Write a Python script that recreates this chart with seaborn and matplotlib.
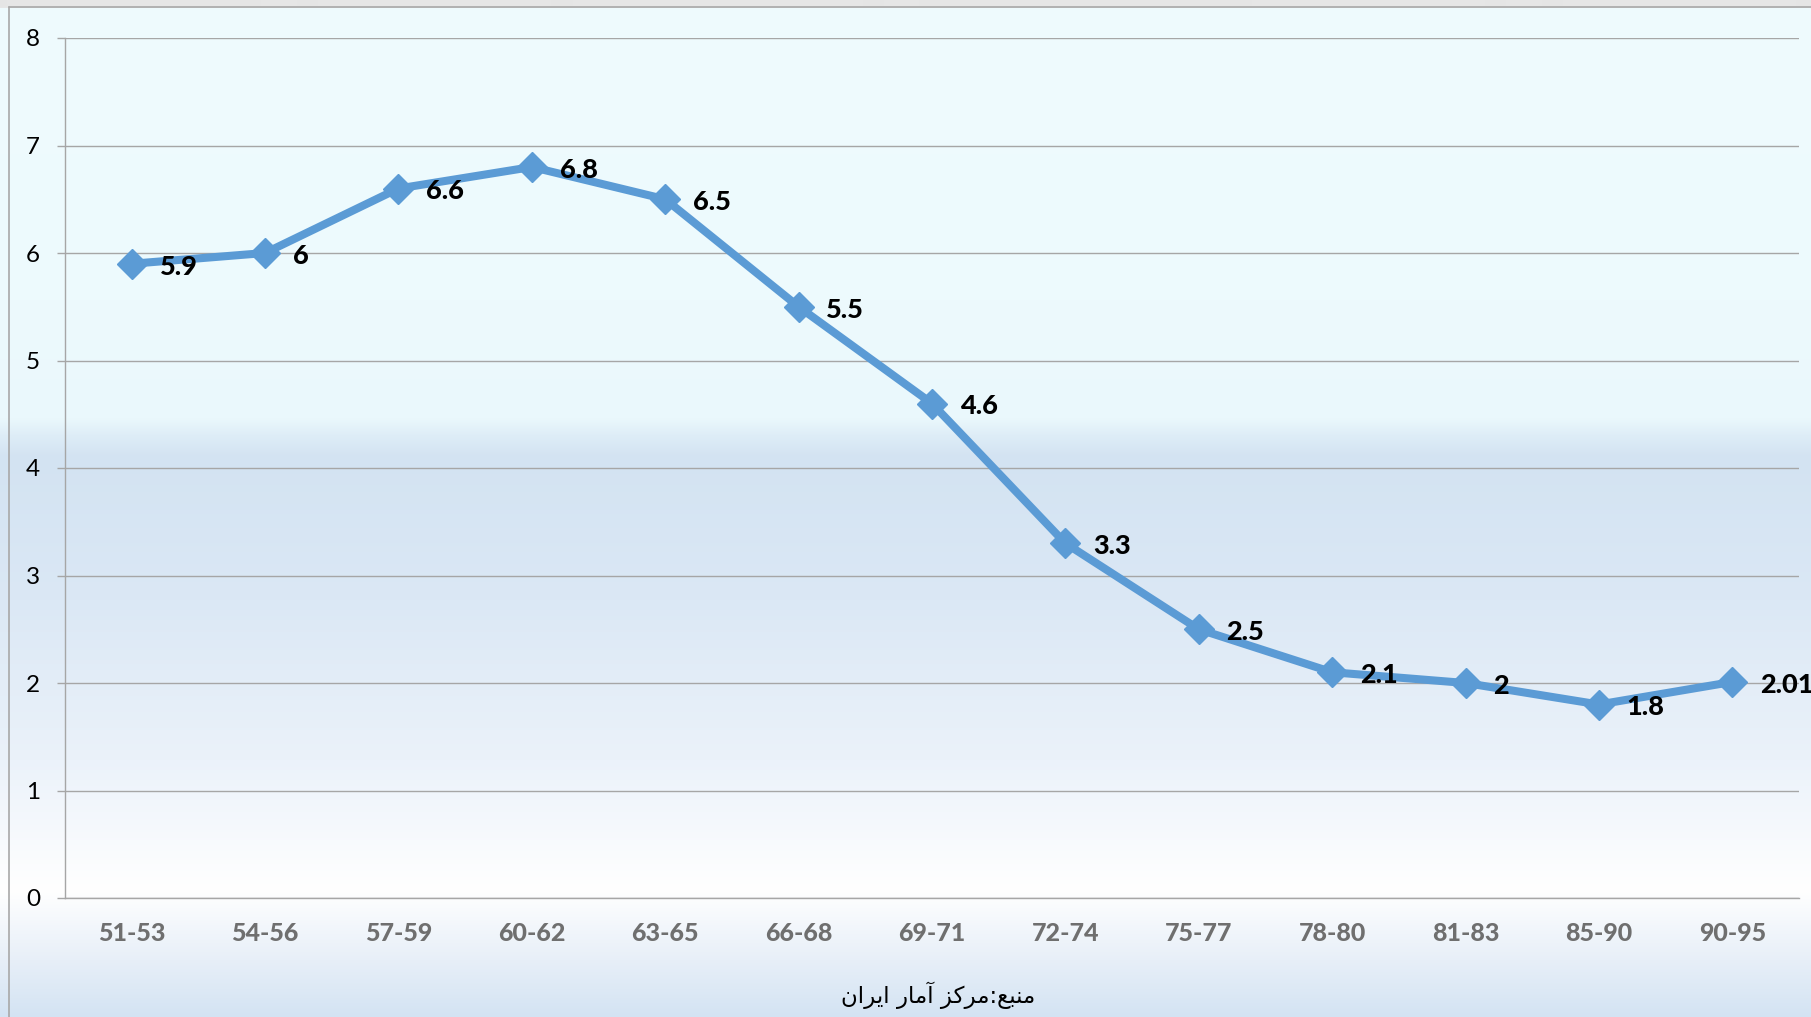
import numpy as np
import pandas as pd
import matplotlib
matplotlib.use("Agg")
import matplotlib.pyplot as plt
from matplotlib.lines import Line2D
from matplotlib import font_manager, ft2font
import seaborn as sns

# Total fertility rate by period (Iranian calendar years)
periods = ["51-53", "54-56", "57-59", "60-62", "63-65", "66-68", "69-71",
           "72-74", "75-77", "78-80", "81-83", "85-90", "90-95"]
fertility = [5.9, 6.0, 6.6, 6.8, 6.5, 5.5, 4.6, 3.3, 2.5, 2.1, 2.0, 1.8, 2.01]
value_labels = ["5.9", "6", "6.6", "6.8", "6.5", "5.5", "4.6", "3.3",
                "2.5", "2.1", "2", "1.8", "2.01"]
y_ticks = [0, 1, 2, 3, 4, 5, 6, 7, 8]
source_note = "منبع:مرکز آمار ایران"

W, H = 1811, 1017
DPI = 100

sns.set_theme(style="white")
plt.rcParams["font.family"] = ["Lato", "DejaVu Sans"]


# --- minimal Arabic-script shaping (matplotlib draws glyphs without joining) ---
_arabic_font = font_manager.findfont("DejaVu Sans")
_charmap = ft2font.FT2Font(_arabic_font).get_charmap()


def _pick(preferred, fallback):
    return preferred if all(ord(c) in _charmap for c in preferred) else fallback


# (isolated, final, initial, medial); two-form entries join to the right only
FORMS = {
    "م": ("\uFEE1", "\uFEE2", "\uFEE3", "\uFEE4"),
    "ن": ("\uFEE5", "\uFEE6", "\uFEE7", "\uFEE8"),
    "ب": ("\uFE8F", "\uFE90", "\uFE91", "\uFE92"),
    "ع": ("\uFEC9", "\uFECA", "\uFECB", "\uFECC"),
    "ک": tuple(_pick(a, b) for a, b in zip(("\uFB8E", "\uFB8F", "\uFB90", "\uFB91"),
                                          ("\uFED9", "\uFEDA", "\uFEDB", "\uFEDC"))),
    "ی": tuple(_pick(a, b) for a, b in zip(("\uFBFC", "\uFBFD", "\uFBFE", "\uFBFF"),
                                          ("\uFEEF", "\uFEF0", "\uFEF3", "\uFEF4"))),
    "ر": ("\uFEAD", "\uFEAE"),
    "ز": ("\uFEAF", "\uFEB0"),
    "ا": ("\uFE8D", "\uFE8E"),
    "آ": ("\uFE81", "\uFE82"),
}


def shape_rtl(text):
    out = []
    for i, ch in enumerate(text):
        if ch not in FORMS:
            out.append(ch)
            continue
        prev = text[i - 1] if i > 0 else None
        nxt = text[i + 1] if i + 1 < len(text) else None
        joins_prev = prev in FORMS and len(FORMS[prev]) == 4
        joins_next = nxt in FORMS and len(FORMS[ch]) == 4
        f = FORMS[ch]
        if joins_prev and joins_next:
            out.append(f[3])
        elif joins_prev:
            out.append(f[1])
        elif joins_next:
            out.append(f[2])
        else:
            out.append(f[0])
    return "".join(out)[::-1]


fig = plt.figure(figsize=(W / DPI, H / DPI), dpi=DPI)

# --- background gradient of the chart area ---
stops_px = [0, 7, 8, 300, 418, 435, 456, 600, 760, 890, 960, 1017]
stops_col = ["#e6e6e6", "#e6e6e6", "#effbfd", "#edfafd", "#eaf8fc", "#deedf7",
             "#d3e3f2", "#dbe8f5", "#ebf2fa", "#ffffff", "#e7eff8", "#d3e3f3"]
rgb = np.array([matplotlib.colors.to_rgb(c) for c in stops_col])
rows = np.arange(H)
grad = np.stack([np.interp(rows, stops_px, rgb[:, k]) for k in range(3)], axis=-1)
bg = fig.add_axes([0, 0, 1, 1], zorder=-10)
bg.imshow(grad[:, None, :], aspect="auto", extent=[0, 1, 0, 1], interpolation="bilinear")
bg.set_axis_off()

# chart area border (top and left edges)
fig.add_artist(Line2D([9 / W, 1], [1 - 7 / H, 1 - 7 / H], color="#a8a8a8", lw=1.2))
fig.add_artist(Line2D([9 / W, 9 / W], [0, 1 - 7 / H], color="#a8a8a8", lw=1.2))

# --- plot area ---
left, right, top, bottom = 65, 1799, 38, 898
ax = fig.add_axes([left / W, 1 - bottom / H, (right - left) / W, (bottom - top) / H])
ax.set_facecolor("none")

df = pd.DataFrame({"period": periods, "tfr": fertility})
sns.lineplot(data=df, x="period", y="tfr", ax=ax, sort=False,
             color="#5b9bd5", lw=5.8, marker="D", markersize=15.5,
             markeredgewidth=1.0, markeredgecolor="#5b9bd5",
             solid_joinstyle="round", solid_capstyle="round", zorder=3)

for i, (v, lab) in enumerate(zip(fertility, value_labels)):
    ax.annotate(lab, (i, v), xytext=(20, -2), textcoords="offset points",
                ha="left", va="center", fontsize=19.5, fontweight=900,
                color="black", annotation_clip=False, zorder=4)

ax.set_xlim(-0.5, len(periods) - 0.5)
ax.set_ylim(0, 8)
ax.set_yticks(y_ticks)
ax.set_yticklabels([str(t) for t in y_ticks])
ax.set_xticks(range(len(periods)))
ax.set_xticklabels(periods)
ax.set_xlabel("")
ax.set_ylabel("")

ax.set_axisbelow(True)
ax.yaxis.grid(True, color="#a6a6a6", lw=1.0)
ax.xaxis.grid(False)
for side in ("top", "right"):
    ax.spines[side].set_visible(False)
for side in ("left", "bottom"):
    ax.spines[side].set_visible(True)
    ax.spines[side].set_color("#a6a6a6")
    ax.spines[side].set_linewidth(1.0)

ax.tick_params(axis="y", which="major", length=6, width=1.0, color="#a6a6a6",
               direction="out", pad=12, labelsize=17.5, labelcolor="black", left=True)
ax.tick_params(axis="x", which="major", length=0, pad=17, labelsize=18,
               labelcolor="#6f6f6f")
for t in ax.get_xticklabels():
    t.set_fontweight(900)

# source note under the axis
fig.text(938 / W, 1 - 995 / H, shape_rtl(source_note), ha="center", va="center",
         fontsize=16.5, color="black", family="DejaVu Sans")

fig.savefig("out.png", dpi=DPI)
